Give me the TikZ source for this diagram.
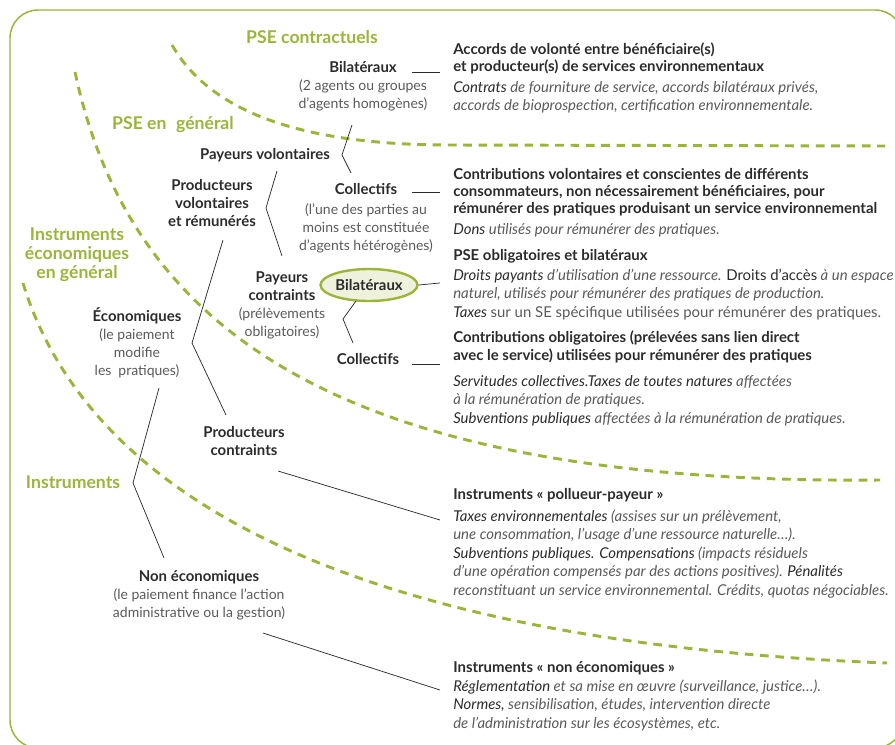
\documentclass[tikz,border=0pt]{standalone}
\usepackage{fontspec}
\setmainfont{Lato}
\usetikzlibrary{shapes.geometric}
\definecolor{vert}{HTML}{9AB53A}
\definecolor{fondvert}{HTML}{EEF2DC}
\definecolor{noir}{HTML}{2B2B2B}
\definecolor{gris}{HTML}{5A5A5A}
\newcommand{\gras}[1]{{\color{noir}\fontsize{11.2}{13.5}\selectfont\bfseries #1}}
\newcommand{\fort}[1]{{\color{noir}#1}}
\begin{document}
\begin{tikzpicture}[x=0.75pt,y=-0.75pt,
  cadre/.style={draw=vert, line width=1.1pt, rounded corners=21pt},
  sep/.style={draw=vert, line width=2.2pt, dash pattern=on 6.5pt off 5pt},
  lien/.style={draw=noir, line width=0.55pt},
  titre/.style={text=vert, font=\fontsize{13.2}{14.25}\selectfont\bfseries, inner sep=0pt, anchor=base, align=center},
  lab/.style={text=gris, font=\fontsize{10.5}{13.5}\selectfont, inner sep=0pt, anchor=base, align=center},
  deschead/.style={text=noir, font=\fontsize{11.2}{13}\selectfont\bfseries, inner sep=0pt, anchor=base west, align=left},
  descbody/.style={text=gris, font=\fontsize{11.2}{13.6}\selectfont\itshape, inner sep=0pt, anchor=base west, align=left},
  bulle/.style={ellipse, draw=vert, line width=1.8pt, fill=fondvert, inner sep=0pt, minimum width=72.75pt, minimum height=24pt, text=noir, font=\fontsize{11.2}{13.5}\selectfont\bfseries}
]
\useasboundingbox (0,0) rectangle (895,745);
\clip (0,0) rectangle (895,745);
\draw[cadre] (10,10) rectangle (903,748);

% dashed separators
\draw[sep] (172,45) .. controls (215,120) and (320,145) .. (450,145) -- (885,146);
\draw[sep] (75,72) .. controls (130,330) and (340,485) .. (880,480);
\draw[sep] (23,283) .. controls (80,470) and (300,640) .. (887,663);

% green titles (anchor base = last line)
\node[titre] (tContr) at (312,44) {PSE contractuels};
\node[titre] (tPSE) at (173,130) {PSE en\hspace{0.55em}général};
\node[titre] (tIEco) at (77,278) {Instruments\\économiques\\en général};
\node[titre] (tInstr) at (73,488) {Instruments};

% tree labels (anchor base = last line)
\node[lab] (bilat1) at (363,109) {\gras{Bilatéraux}\\(2 agents ou groupes\\d’agents homogènes)};
\node[lab] (payvol) at (265,160) {\gras{Payeurs volontaires}};
\node[lab] (prodvol) at (212,227) {\gras{Producteurs}\\\gras{volontaires}\\\gras{et rémunérés}};
\node[lab] (coll1) at (366,251) {\gras{Collectifs}\\[1.5pt](l’une des parties au\\moins est constituée\\d’agents hétérogènes)};
\node[lab] (paycon) at (282,336) {\gras{Payeurs}\\\gras{contraints}\\(prélèvements\\obligatoires)};
\node[bulle] (bilat2) at (369,285) {Bilatéraux};
\node[lab] (coll2) at (368,364) {\gras{Collectifs}};
\node[lab] (eco) at (137,375) {\gras{Économiques}\\(le paiement\\modifie\\les\hspace{0.5em}pratiques)};
\node[lab] (prodcon) at (244,455) {\gras{Producteurs}\\\gras{contraints}};
\node[lab] (noneco) at (199,617) {\gras{Non économiques}\\(le paiement finance l’action\\administrative ou la gestion)};

% connector points
\coordinate (iT) at (159,388); \coordinate (iV) at (133,483); \coordinate (iB) at (164,558);
\coordinate (eT) at (223,240); \coordinate (eV) at (192,343); \coordinate (eB) at (226,415);
\coordinate (pT) at (277,171); \coordinate (pV) at (266,208); \coordinate (pB) at (282,256);
\coordinate (vT) at (352,125); \coordinate (vV) at (342,155); \coordinate (vB) at (351,173);
\coordinate (cT) at (356,301); \coordinate (cV) at (343,319); \coordinate (cB) at (353,343);
\coordinate (h1a) at (412,72);  \coordinate (h1b) at (440,72);
\coordinate (h2a) at (412,192); \coordinate (h2b) at (440,192);
\coordinate (h3b) at (440,283);
\coordinate (h4a) at (412,364); \coordinate (h4b) at (440,364);
\coordinate (d1a) at (278,471); \coordinate (d1b) at (440,520);
\coordinate (d2a) at (263,633); \coordinate (d2b) at (440,690);

\draw[lien] (iT) -- (iV) -- (iB);
\draw[lien] (eT) -- (eV) -- (eB);
\draw[lien] (pT) -- (pV) -- (pB);
\draw[lien] (vT) -- (vV) -- (vB);
\draw[lien] (cT) -- (cV) -- (cB);
\draw[lien] (h1a) -- (h1b);
\draw[lien] (h2a) -- (h2b);
\draw[lien] (bilat2.east) -- (h3b);
\draw[lien] (h4a) -- (h4b);
\draw[lien] (d1a) -- (d1b);
\draw[lien] (d2a) -- (d2b);

% descriptions (anchor base = last line)
\node[deschead] (a1) at (453,72) {Accords de volonté entre bénéficiaire(s)\\et producteur(s) de services environnementaux};
\node[descbody] (b1) at (453,111) {\fort{Contrats} de fourniture de service, accords bilatéraux privés,\\accords de bioprospection, certification environnementale.};

\node[deschead] (a2) at (453,214) {Contributions volontaires et conscientes de différents\\consommateurs, non nécessairement bénéficiaires, pour\\rémunérer des pratiques produisant un service environnemental};
\node[descbody] (b2) at (453,234) {\fort{Dons} utilisés pour rémunérer des pratiques.};

\node[deschead] (a3) at (453,261) {PSE obligatoires et bilatéraux};
\node[descbody] (b3) at (453,317) {\fort{Droits payants} d’utilisation d’une ressource. \fort{\upshape Droits d’accès} à un espace\\naturel, utilisés pour rémunérer des pratiques de production.\\\fort{Taxes} {\upshape sur un SE spécifique utilisées pour rémunérer des pratiques.}};

\node[deschead] (a4) at (453,360) {Contributions obligatoires (prélevées sans lien direct\\avec le service) utilisées pour rémunérer des pratiques};
\node[descbody] (b4) at (453,423) {\fort{Servitudes collectives.Taxes de toutes natures} affectées\\à la rémunération de pratiques.\\\fort{Subventions publiques} affectées à la rémunération de pratiques.};

\node[deschead] (a5) at (453,499) {Instruments « pollueur-payeur »};
\node[descbody,font=\fontsize{11.2}{13.8}\selectfont\itshape] (b5) at (453,595) {\fort{Taxes environnementales} (assises sur un prélèvement,\\une consommation, l’usage d’une ressource naturelle…).\\\fort{Subventions publiques. Compensations} (impacts résiduels\\d’une opération compensés par des actions positives). \fort{Pénalités}\\reconstituant un service environnemental. Crédits, quotas négociables.};

\node[deschead] (a6) at (453,672) {Instruments « non économiques »};
\node[descbody,font=\fontsize{11.2}{13.8}\selectfont\itshape] (b6) at (453,728) {\fort{Réglementation} et sa mise en œuvre (surveillance, justice…).\\\fort{Normes,} sensibilisation, études, intervention directe\\de l’administration sur les écosystèmes, etc.};
\end{tikzpicture}
\end{document}
